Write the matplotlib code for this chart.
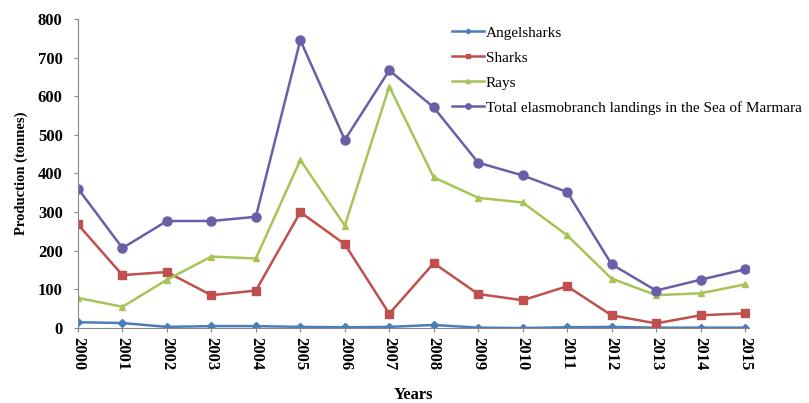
import matplotlib as mpl
import matplotlib.pyplot as plt

mpl.rcParams['font.family'] = ['Liberation Serif', 'DejaVu Serif']
mpl.rcParams['font.weight'] = 'bold'

years = list(range(2000, 2016))
angelsharks = [15, 13, 3, 5, 5, 3, 2, 3, 8, 1, 0, 2, 3, 1, 1, 1]
sharks = [268, 137, 145, 85, 97, 300, 217, 37, 168, 88, 72, 108, 33, 12, 33, 38]
rays = [78, 55, 125, 185, 180, 435, 265, 625, 390, 337, 325, 240, 128, 85, 90, 113]
total = [361, 207, 277, 277, 288, 745, 487, 667, 571, 428, 395, 352, 165, 97, 125, 152]

fig = plt.figure(figsize=(8.09, 4.03), dpi=100)
ax = fig.add_axes([0.0964, 0.186, 0.83, 0.767])

ax.plot(years, angelsharks, color='#4A7EBB', marker='D', markersize=4, lw=1.8,
        label='Angelsharks')
ax.plot(years, sharks, color='#C0504D', marker='s', markersize=5.5, lw=1.8,
        label='Sharks')
ax.plot(years, rays, color='#A8C457', marker='^', markersize=5, lw=1.8,
        label='Rays')
ax.plot(years, total, color='#6B5EA8', marker='o', markersize=6.5, lw=1.8,
        label='Total elasmobranch landings in the Sea of Marmara')

ax.set_xlim(2000, 2015.1)
ax.set_ylim(0, 800)
ax.set_xticks(years)
ax.set_xticklabels([str(y) for y in years], rotation=270, fontsize=12,
                   fontweight='bold')
ax.set_yticks(range(0, 801, 100))
ax.tick_params(axis='y', labelsize=12, pad=8)
ax.tick_params(length=3, color='#888888')

for side in ['top', 'right']:
    ax.spines[side].set_visible(False)
for side in ['left', 'bottom']:
    ax.spines[side].set_color('#888888')

ax.set_xlabel('Years', fontsize=12, fontweight='bold', labelpad=12)
ax.set_ylabel('Production (tonnes)', fontsize=10.5, fontweight='bold', labelpad=7)

leg = ax.legend(loc='upper left', bbox_to_anchor=(0.542, 0.97),
                bbox_transform=fig.transFigure, frameon=False,
                handlelength=2.1, handletextpad=0.1, markerscale=0.6,
                labelspacing=0.74, prop={'weight': 'normal', 'size': 11})

fig.savefig('out.png', dpi=100)
